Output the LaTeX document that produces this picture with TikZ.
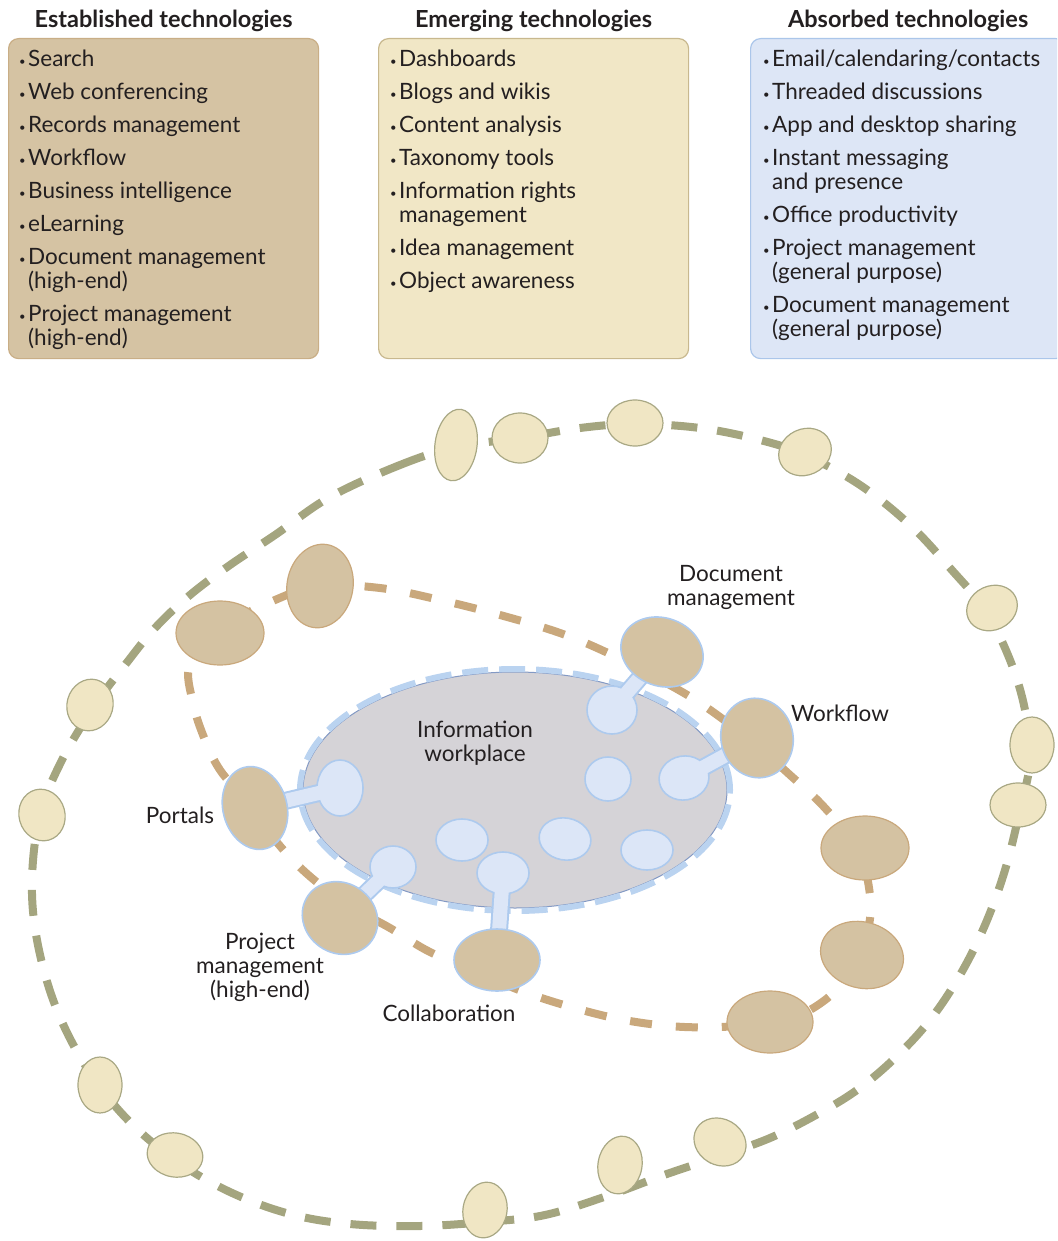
\documentclass[tikz,border=0pt]{standalone}
\usepackage{fontspec}
\setmainfont{Lato}
\usepackage{tikz}
\usetikzlibrary{shapes.geometric, positioning}

\definecolor{estfill}{HTML}{D5C3A3}
\definecolor{estline}{HTML}{C9AE86}
\definecolor{emgfill}{HTML}{F1E7C6}
\definecolor{emgline}{HTML}{C8B88E}
\definecolor{absfill}{HTML}{DDE6F6}
\definecolor{absline}{HTML}{ABC6EA}
\definecolor{olive}{HTML}{A4A57F}
\definecolor{creamfill}{HTML}{F0E6C4}
\definecolor{creamline}{HTML}{A9A884}
\definecolor{tanfill}{HTML}{D4C2A2}
\definecolor{tanline}{HTML}{C9A87C}
\definecolor{bluefill}{HTML}{DCE6F7}
\definecolor{blueline}{HTML}{ADCAEE}
\definecolor{workfill}{HTML}{D5D3D7}
\definecolor{workedge}{HTML}{8399C4}
\definecolor{rim}{HTML}{BAD3F0}
\definecolor{ink}{HTML}{231F20}

\pgfdeclarelayer{rings}
\pgfdeclarelayer{stems}
\pgfdeclarelayer{top}
\pgfsetlayers{rings,stems,main,top}

\newcommand{\bul}{\makebox[9pt][l]{\raisebox{1.5pt}{\scalebox{0.5}{\textbullet}}}}
\newcommand{\hang}{\hspace*{9pt}}

\tikzset{
  head/.style     = {font=\bfseries\fontsize{23.5}{26}\selectfont, text=ink, inner sep=0pt},
  techbox/.style  = {rectangle, rounded corners=10pt, line width=1.2pt,
                     minimum width=310pt, minimum height=320pt, anchor=north west},
  techlist/.style = {align=left, anchor=north west, inner sep=0pt, text=ink,
                     font=\fontsize{22.5}{24}\selectfont},
  lbl/.style      = {align=center, inner sep=0pt, text=ink,
                     font=\fontsize{22.5}{24}\selectfont},
  sz/.style n args= {2}{minimum width=#1pt, minimum height=#2pt},
  pod/.style      = {ellipse, inner sep=0pt, line width=1.2pt},
  cream/.style    = {pod, fill=creamfill, draw=creamline},
  tan/.style      = {pod, fill=tanfill, draw=tanline},
  tanlinked/.style= {pod, fill=tanfill, draw=blueline, line width=1.6pt},
  bud/.style      = {pod, fill=bluefill, draw=blueline, line width=1.6pt},
  outerring/.style= {olive, line width=8pt, dash pattern=on 26pt off 20pt},
  midring/.style  = {tanline, line width=8pt, dash pattern=on 22pt off 24pt},
  stemedge/.style = {blueline, line width=18pt},
  stemfill/.style = {bluefill, line width=14pt}
}

\begin{document}
\begin{tikzpicture}[x=1pt, y=-1pt, node distance=6pt]
\clip (0,0) rectangle (1057,1241);

% technology boxes
\node[techbox, fill=estfill, draw=estline] (estbox) at (8,38) {};
\node[techbox, fill=emgfill, draw=emgline] (emgbox) at (378,38) {};
\node[techbox, fill=absfill, draw=absline, minimum width=315pt] (absbox) at (750,38) {};

\node[head, above=of estbox] (esthead) {Established technologies};
\node[head, above=of emgbox] (emghead) {Emerging technologies};
\node[head, above=of absbox] (abshead) {Absorbed technologies};

\node[techlist] (estlist) at (19,50) {%
  \bul Search\\[9pt]
  \bul Web conferencing\\[9pt]
  \bul Records management\\[9pt]
  \bul Workflow\\[9pt]
  \bul Business intelligence\\[9pt]
  \bul eLearning\\[9pt]
  \bul Document management\\
  \hang(high-end)\\[9pt]
  \bul Project management\\
  \hang(high-end)};

\node[techlist] (emglist) at (390,50) {%
  \bul Dashboards\\[9pt]
  \bul Blogs and wikis\\[9pt]
  \bul Content analysis\\[9pt]
  \bul Taxonomy tools\\[9pt]
  \bul Information rights\\
  \hang management\\[9pt]
  \bul Idea management\\[9pt]
  \bul Object awareness};

\node[techlist] (abslist) at (763,50) {%
  \bul Email/calendaring/contacts\\[9pt]
  \bul Threaded discussions\\[9pt]
  \bul App and desktop sharing\\[9pt]
  \bul Instant messaging\\
  \hang and presence\\[9pt]
  \bul Office productivity\\[9pt]
  \bul Project management\\
  \hang(general purpose)\\[9pt]
  \bul Document management\\
  \hang(general purpose)};

% rings and the workplace
\begin{pgfonlayer}{rings}
  \draw[outerring] plot[smooth cycle, tension=0.6] coordinates {
    (330,497) (400,465) (456,447) (520,438) (580,428) (635,424) (700,428)
    (760,440) (805,455) (860,485) (910,525) (950,568) (985,610) (1010,660)
    (1025,710) (1030,760) (1020,810) (1005,870) (985,925) (960,975)
    (930,1020) (895,1058) (857,1090) (816,1115) (770,1138) (720,1156)
    (664,1175) (610,1195) (545,1215) (485,1222) (420,1226) (350,1224)
    (290,1214) (230,1192) (175,1160) (125,1117) (85,1065) (55,1005)
    (37,940) (32,880) (40,815) (62,760) (95,705) (125,665) (155,628)
    (190,595) (230,565) (275,535)};
  \draw[midring] plot[smooth cycle, tension=0.6] coordinates {
    (222,628) (275,600) (320,586) (380,588) (440,600) (500,615) (560,633)
    (608,653) (655,677) (700,703) (750,740) (790,775) (825,808) (858,850)
    (870,895) (868,930) (855,965) (825,1000) (780,1022) (717,1027)
    (669,1026) (619,1019) (571,1007) (527,993) (485,976) (430,952)
    (390,928) (345,903) (305,872) (275,840) (245,800) (220,770) (205,740)
    (193,703) (190,663)};
  \fill[workfill] (515,790) ellipse [x radius=212pt, y radius=118pt];
  \draw[workedge, line width=1pt] (515,790) ellipse [x radius=212pt, y radius=118pt];
  \draw[rim, line width=6pt, dash pattern=on 26pt off 11pt]
    (515,790) ellipse [x radius=215pt, y radius=121pt];
\end{pgfonlayer}

% buds inside the workplace
\node[bud, sz={46}{56}] (b1) at (340,788) {};
\node[bud, sz={50}{48}] (b2) at (612,710) {};
\node[bud, sz={46}{44}] (b3) at (608,779) {};
\node[bud, sz={50}{44}, rotate=10] (b4) at (684,778) {};
\node[bud, sz={52}{42}] (b5) at (462,840) {};
\node[bud, sz={52}{42}, rotate=-10] (b6) at (565,839) {};
\node[bud, sz={52}{40}] (b7) at (647,850) {};
\node[bud, sz={46}{42}] (b8) at (393,867) {};
\node[bud, sz={52}{42}] (b9) at (503,873) {};

\begin{pgfonlayer}{top}
  % established ring
  \node[tan, sz={88}{64}] (m1) at (220,633) {};
  \node[tan, sz={66}{84}, rotate=-10] (m2) at (320,586) {};
  \node[tanlinked, sz={84}{68}, rotate=-20] (docmgmt) at (662,652) {};
  \node[tanlinked, sz={72}{80}, rotate=15] (workflow) at (757,738) {};
  \node[tan, sz={88}{64}] (m3) at (865,848) {};
  \node[tan, sz={84}{66}, rotate=-15] (m4) at (862,955) {};
  \node[tan, sz={86}{62}] (m5) at (770,1022) {};
  \node[tanlinked, sz={86}{62}] (collab) at (497,960) {};
  \node[tanlinked, sz={78}{70}, rotate=-35] (projmgmt) at (340,918) {};
  \node[tanlinked, sz={64}{84}, rotate=15] (portals) at (255,808) {};
  % emerging ring
  \node[cream, sz={42}{72}, rotate=-8] (o1) at (456,445) {};
  \node[cream, sz={56}{50}] (o2) at (520,438) {};
  \node[cream, sz={56}{46}] (o3) at (635,423) {};
  \node[cream, sz={54}{46}, rotate=25] (o4) at (805,452) {};
  \node[cream, sz={52}{44}, rotate=25] (o5) at (992,608) {};
  \node[cream, sz={44}{56}] (o6) at (1032,745) {};
  \node[cream, sz={56}{44}] (o7) at (1018,805) {};
  \node[cream, sz={54}{46}, rotate=-30] (o8) at (720,1142) {};
  \node[cream, sz={44}{58}, rotate=-10] (o9) at (620,1165) {};
  \node[cream, sz={44}{56}, rotate=-10] (o10) at (485,1210) {};
  \node[cream, sz={56}{44}, rotate=-10] (o11) at (175,1155) {};
  \node[cream, sz={44}{56}] (o12) at (100,1085) {};
  \node[cream, sz={46}{52}, rotate=15] (o13) at (42,815) {};
  \node[cream, sz={46}{52}, rotate=-15] (o14) at (90,705) {};
  % labels
  \node[lbl] (wplabel) at (475,743) {Information\\workplace};
  \node[lbl] (doclabel) at (731,587) {Document\\management};
  \node[lbl] (wflabel) at (840,713) {Workflow};
  \node[lbl] (ptlabel) at (180,815) {Portals};
  \node[lbl] (pmlabel) at (260,967) {Project\\management\\(high-end)};
  \node[lbl] (cblabel) at (449,1013) {Collaboration};
\end{pgfonlayer}

% stems from the workplace to the established ring
\begin{pgfonlayer}{stems}
  \foreach \a/\b in {b1/portals, b2/docmgmt, b4/workflow, b8/projmgmt, b9/collab}
    \draw[stemedge] (\a.center) -- (\b.center);
\end{pgfonlayer}
\foreach \a/\b in {b1/portals, b2/docmgmt, b4/workflow, b8/projmgmt, b9/collab}
  \draw[stemfill] (\a.center) -- (\b.center);
\end{tikzpicture}
\end{document}
